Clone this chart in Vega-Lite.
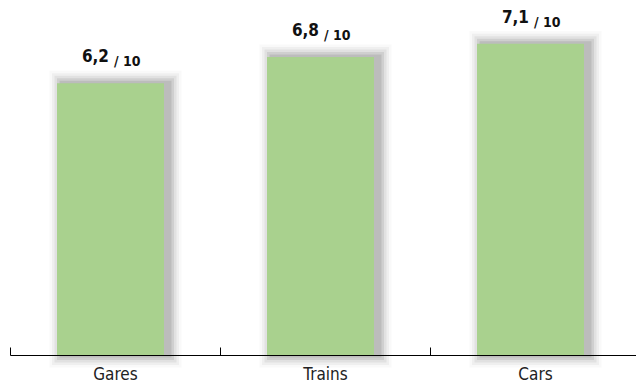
{
  "$schema": "https://vega.github.io/schema/vega-lite/v6.json",
  "autosize": "none",
  "width": 626,
  "height": 355,
  "padding": {"left": 10, "top": 0, "right": 0, "bottom": 32},
  "background": "white",
  "config": {"view": {"stroke": null}},
  "data": {"values": [
    {"cat": "Gares", "value": 6.2, "num": "6,2"},
    {"cat": "Trains", "value": 6.8, "num": "6,8"},
    {"cat": "Cars", "value": 7.1, "num": "7,1"}
  ]},
  "encoding": {
    "x": {"field": "cat", "type": "nominal", "sort": null,
      "scale": {"range": [0, 630], "paddingInner": 0, "paddingOuter": 0},
      "axis": {"title": null, "labelAngle": 0, "domainColor": "#000", "domainWidth": 1,
        "tickBand": "extent", "tickColor": "#000", "tickSize": -8, "tickWidth": 1,
        "labelFont": "DejaVu Sans Condensed, Liberation Sans, sans-serif", "labelFontSize": 17, "labelColor": "#222",
        "labelPadding": 19, "zindex": 1}},
    "y": {"field": "value", "type": "quantitative", "scale": {"domain": [0, 8.1], "nice": false, "zero": true}, "axis": null}
  },
  "layer": [
    {"mark": {"type": "bar", "color": "#333", "opacity": 0.12, "width": 112, "xOffset": 0.5, "yOffset": -2.5, "y2Offset": 2.5},
     "encoding": {"y2": {"datum": 0}}},
    {"mark": {"type": "bar", "color": "#333", "opacity": 0.1, "width": 117, "xOffset": 0.5, "yOffset": -5, "y2Offset": 5},
     "encoding": {"y2": {"datum": 0}}},
    {"mark": {"type": "bar", "color": "#333", "opacity": 0.07, "width": 122, "xOffset": 0.5, "yOffset": -7.5, "y2Offset": 7.5},
     "encoding": {"y2": {"datum": 0}}},
    {"mark": {"type": "bar", "color": "#333", "opacity": 0.05, "width": 127, "xOffset": 0.5, "yOffset": -10, "y2Offset": 10},
     "encoding": {"y2": {"datum": 0}}},
    {"mark": {"type": "bar", "color": "#333", "opacity": 0.03, "width": 132, "xOffset": 0.5, "yOffset": -12.5, "y2Offset": 12.5},
     "encoding": {"y2": {"datum": 0}}},
    {"mark": {"type": "bar", "color": "#A9D18E", "width": 107, "xOffset": -4.5},
     "encoding": {"y2": {"datum": 0}}},
    {"mark": {"type": "text", "font": "DejaVu Sans Condensed, Liberation Sans, sans-serif", "fontWeight": "bold", "fontSize": 17, "align": "right", "baseline": "alphabetic", "dx": -6, "dy": -21, "color": "#111"},
     "encoding": {"text": {"field": "num"}}},
    {"mark": {"type": "text", "font": "DejaVu Sans Condensed, Liberation Sans, sans-serif", "fontWeight": "bold", "fontSize": 14, "align": "left", "baseline": "alphabetic", "dx": -1, "dy": -17, "color": "#111"},
     "encoding": {"text": {"value": "/ 10"}}}
  ]
}
